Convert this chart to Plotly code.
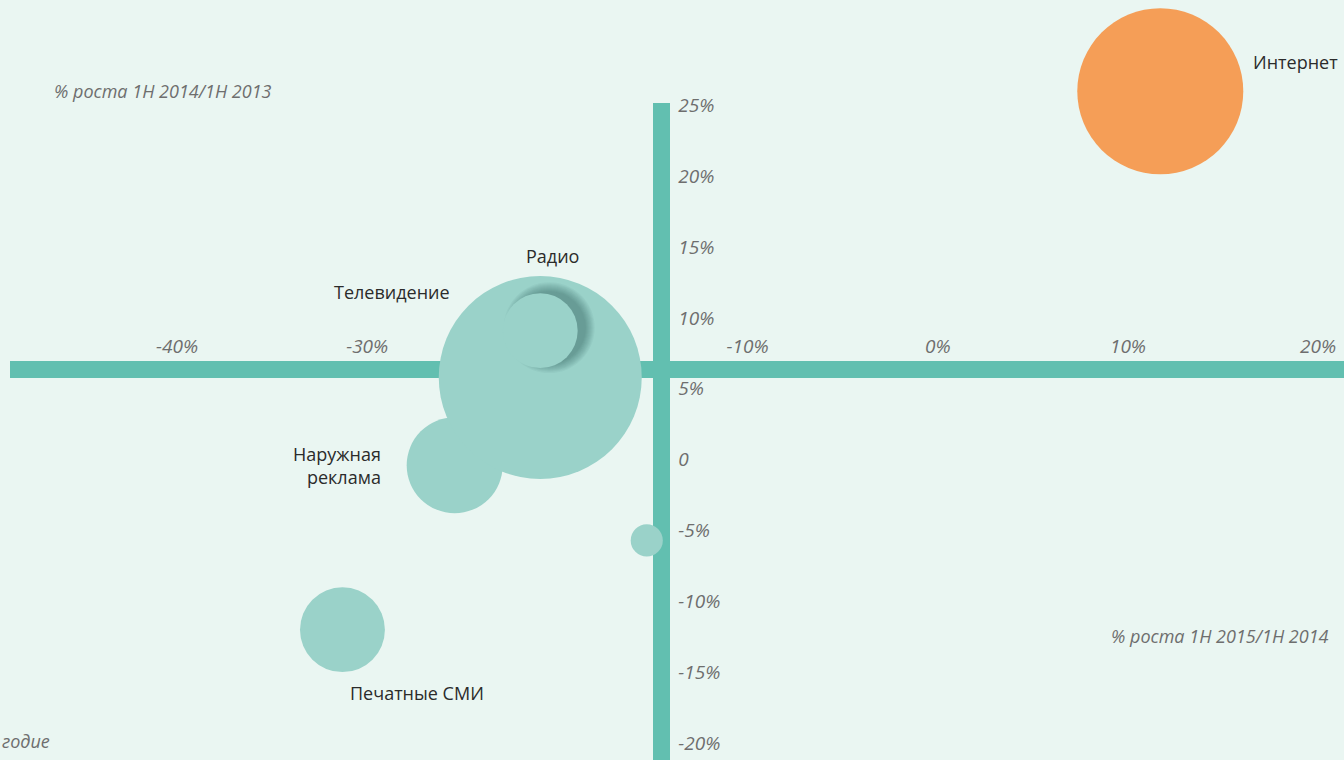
"""
# -- Ad market growth by media: 1H 2015/1H 2014 vs 1H 2014/1H 2013 (bubble chart) -- #
"""

# ====================================== Required packages ================================================ #

import math
import plotly.graph_objects as go

# ============================================= Data ====================================================== #

media = ['Наружная реклама', 'Телевидение', 'Радио', 'Печатные СМИ', 'Прочее', 'Интернет']
growth_2015 = [-25.4, -20.9, -20.9, -31.3, -15.3, 11.7]     # % роста 1H 2015/1H 2014
growth_2014 = [-0.4, 5.8, 9.1, -12.0, -5.7, 26.0]           # % роста 1H 2014/1H 2013
volume = [14.3, 64.0, 8.7, 11.2, 1.6, 42.8]                 # bubble size (market volume)

x_ticks = [-40, -30, -10, 0, 10, 20]
x_tick_text = ['-40%', '-30%', '-10%', '0%', '10%', '20%']
y_ticks = [25, 20, 15, 10, 5, 0, -5, -10, -15, -20]
y_tick_text = ['25%', '20%', '15%', '10%', '5%', '0', '-5%', '-10%', '-15%', '-20%']

# ============================================ Styling ==================================================== #

W, H = 1344, 760
BG = '#EAF6F2'
AXIS = '#62BFB0'
TEAL = '#9AD2C9'
ORANGE = '#F59E57'
TICK_GREY = '#6E6E6E'
LABEL = '#2B2B2B'
FONT = 'Open Sans, sans-serif'

SIZEREF = 2 * 64.0 / 203 ** 2   # TV bubble -> ~203 px diameter

# visible axes: plot box from x=10px to right edge, y=103px to bottom
X_RANGE = [-48.78, 21.36]
Y_RANGE = [-21.2, 25.17]
LEFT_PX, TOP_PX = 10, 103
PX_X = (W - LEFT_PX) / (X_RANGE[1] - X_RANGE[0])     # px per 1% on x
PX_Y = (H - TOP_PX) / (Y_RANGE[1] - Y_RANGE[0])      # px per 1% on y


def diameter(v):
    return 2 * math.sqrt(v / (2 * SIZEREF))


# ============================================ Figure ===================================================== #

def plot_bubbles():

    colors = [ORANGE if m == 'Интернет' else TEAL for m in media]
    on_full = dict(xaxis='x2', yaxis='y2', cliponaxis=False)

    fig = go.Figure()

    # -- empty trace so the visible crossed axes get their own subplot -- #
    fig.add_trace(go.Scatter(x=[], y=[], xaxis='x', yaxis='y', hoverinfo='skip'))

    # -- bubbles drawn before radio (outdoor, TV) -- #
    idx_back = [0, 1]
    fig.add_trace(go.Scatter(
        x=[growth_2015[i] for i in idx_back], y=[growth_2014[i] for i in idx_back],
        mode='markers', hoverinfo='text', text=[media[i] for i in idx_back], **on_full,
        marker=dict(size=[volume[i] for i in idx_back], sizemode='area', sizeref=SIZEREF,
                    color=[colors[i] for i in idx_back], line=dict(width=0), opacity=1)))

    # -- soft shadow under the radio bubble (offset right / up) -- #
    r = 2
    d = diameter(volume[r])
    for extra in range(16, -4, -2):
        fig.add_trace(go.Scatter(
            x=[growth_2015[r] + 9 / PX_X], y=[growth_2014[r] + 3 / PX_Y], mode='markers',
            hoverinfo='skip', **on_full,
            marker=dict(size=d + extra, color='#173F3A', opacity=0.045, line=dict(width=0))))

    # -- remaining bubbles -- #
    idx_front = [2, 3, 4, 5]
    fig.add_trace(go.Scatter(
        x=[growth_2015[i] for i in idx_front], y=[growth_2014[i] for i in idx_front],
        mode='markers', hoverinfo='text', text=[media[i] for i in idx_front], **on_full,
        marker=dict(size=[volume[i] for i in idx_front], sizemode='area', sizeref=SIZEREF,
                    color=[colors[i] for i in idx_front], line=dict(width=0), opacity=1)))

    # -- bubble labels -- #
    label_style = dict(font=dict(family=FONT, size=18, color=LABEL), showarrow=False,
                       xref='x2', yref='y2', align='right')
    offsets = {
        'Интернет': dict(xanchor='left', xshift=diameter(volume[5]) / 2 + 8, yshift=29),
        'Радио': dict(xanchor='center', xshift=12, yshift=75),
        'Телевидение': dict(xanchor='center', xshift=-148, yshift=85),
        'Наружная реклама': dict(xanchor='right', xshift=-72, yshift=0, text='Наружная<br>реклама'),
        'Печатные СМИ': dict(xanchor='center', xshift=75, yshift=-63),
    }
    for i, m in enumerate(media):
        if m not in offsets:
            continue
        opts = dict(text=m)
        opts.update(offsets[m])
        fig.add_annotation(x=growth_2015[i], y=growth_2014[i], **label_style, **opts)

    # -- axis titles and footnote -- #
    note_font = dict(family=FONT, size=18, color=TICK_GREY, style='italic')
    fig.add_annotation(text='% роста 1H 2014/1H 2013', xref='paper', yref='paper',
                       x=52 / W, y=(H - 91) / H, xanchor='left', yanchor='middle',
                       showarrow=False, font=note_font)
    fig.add_annotation(text='% роста 1H 2015/1H 2014', xref='paper', yref='paper',
                       x=1331 / W, y=(H - 636) / H, xanchor='right', yanchor='middle',
                       showarrow=False, font=note_font)
    fig.add_annotation(text='годие', xref='paper', yref='paper',
                       x=0, y=(H - 741) / H, xanchor='left', yanchor='middle',
                       showarrow=False, font=note_font)

    # -- layout -- #
    tick_font = dict(family=FONT, size=19, color=TICK_GREY, style='italic')
    hidden = dict(visible=False, showgrid=False, zeroline=False, domain=[0, 1], automargin=False)
    fig.update_layout(
        width=W, height=H, showlegend=False,
        paper_bgcolor=BG, plot_bgcolor='rgba(0,0,0,0)',
        margin=dict(l=0, r=0, t=0, b=0, pad=0, autoexpand=False),
        font=dict(family=FONT),
        xaxis=dict(range=X_RANGE, domain=[LEFT_PX / W, 1], automargin=False,
                   anchor='free', position=(H - 368.5) / H, side='top',
                   showline=True, linewidth=17, linecolor=AXIS, layer='below traces',
                   showgrid=False, zeroline=False, ticks='', ticklabeloverflow='allow',
                   tickvals=x_ticks, ticktext=x_tick_text, tickfont=tick_font),
        yaxis=dict(range=Y_RANGE, domain=[0, (H - TOP_PX) / H], automargin=False,
                   anchor='free', position=660.5 / W, side='right',
                   showline=True, linewidth=17, linecolor=AXIS, layer='below traces',
                   showgrid=False, zeroline=False, ticks='', ticklabeloverflow='allow',
                   ticklabelstandoff=5,
                   tickvals=y_ticks, ticktext=y_tick_text, tickfont=tick_font),
        # full-canvas axes with the same scale, used for the bubbles so none are cut
        xaxis2=dict(range=[X_RANGE[0] - LEFT_PX / PX_X, X_RANGE[1]], anchor='y2', **hidden),
        yaxis2=dict(range=[Y_RANGE[0], Y_RANGE[1] + TOP_PX / PX_Y], anchor='x2', **hidden),
    )

    return fig


fig = plot_bubbles()
fig.write_html("out.html", config={'displayModeBar': False},
               post_script="document.body.style.margin='0';document.body.style.background='%s';" % BG)
